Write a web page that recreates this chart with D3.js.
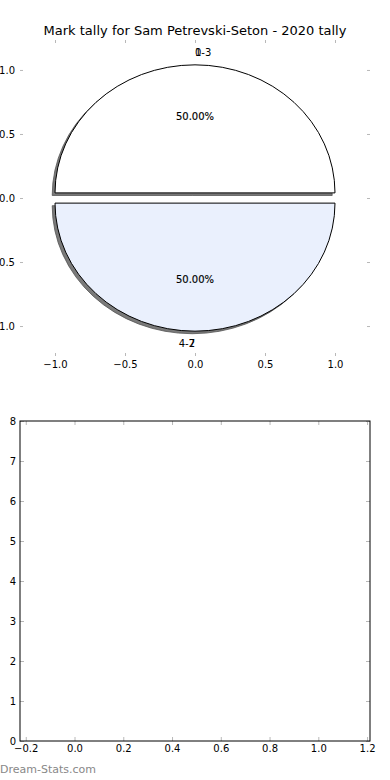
<!DOCTYPE html>
<html><head><meta charset="utf-8">
<script src="https://cdn.jsdelivr.net/npm/d3@7"></script>
<style>
html,body{margin:0;padding:0;background:#fff;}
text{font-family:"DejaVu Sans",sans-serif;}
</style></head>
<body>
<script>
const title = "Mark tally for Sam Petrevski-Seton - 2020 tally";
const categories = ["0-3", "4-7"];
const altLabels = ["1", "2"];
const values = [1, 1];
const pctLabels = ["50.00%", "50.00%"];
const sliceColors = ["#ffffff", "#eaf0fd"];
const pieXTicks = [-1.0, -0.5, 0.0, 0.5, 1.0];
const pieYTicks = [-1.0, -0.5, 0.0, 0.5, 1.0];
const barXTicks = [-0.2, 0.0, 0.2, 0.4, 0.6, 0.8, 1.0, 1.2];
const barYTicks = [0, 1, 2, 3, 4, 5, 6, 7, 8];
const explodeBy = 0.04;
const shadowOffset = 0.02;

const W = 390, H = 780;
const svg = d3.select("body").append("svg").attr("width", W).attr("height", H);
const tickColor = "#b8b8b8";

// ---------- top: pie ----------
const px = d3.scaleLinear().domain([-1.25, 1.25]).range([20, 370]);
const py = d3.scaleLinear().domain([-1.234, 1.234]).range([356, 40]);
const sx = px(1) - px(0), sy = py(0) - py(1);

svg.append("text").attr("x", 195).attr("y", 34.5).attr("text-anchor", "middle")
  .attr("font-size", 13).text(title);

function styleAxis(g, labels) {
  g.select(".domain").remove();
  g.selectAll(".tick line").attr("stroke", tickColor);
  g.selectAll(".tick text").attr("fill", "#000").attr("font-size", 10)
    .attr("font-family", "DejaVu Sans");
  if (!labels) g.selectAll(".tick text").remove();
}
svg.append("g").attr("transform", `translate(0,356)`)
  .call(d3.axisBottom(px).tickValues(pieXTicks).tickFormat(d3.format(".1f")).tickSizeInner(-3).tickSizeOuter(0).tickPadding(5))
  .call(g => styleAxis(g, true));
svg.append("g").attr("transform", `translate(0,40)`)
  .call(d3.axisTop(px).tickValues(pieXTicks).tickSizeInner(-3).tickSizeOuter(0))
  .call(g => styleAxis(g, false));
svg.append("g").attr("transform", `translate(20,0)`)
  .call(d3.axisLeft(py).tickValues(pieYTicks).tickFormat(d3.format(".1f")).tickSizeInner(-3).tickSizeOuter(0).tickPadding(5))
  .call(g => styleAxis(g, true));
svg.append("g").attr("transform", `translate(370,0)`)
  .call(d3.axisRight(py).tickValues(pieYTicks).tickSizeInner(-3).tickSizeOuter(0))
  .call(g => styleAxis(g, false));

const pie = d3.pie().sort(null).value(d => d).startAngle(-Math.PI / 2).endAngle(3 * Math.PI / 2);
const arcs = pie(values);
const arc = d3.arc().innerRadius(0).outerRadius(1);
const total = d3.sum(values);
const cum = d3.cumsum(values);

arcs.forEach((a, i) => {
  const mid = (a.startAngle + a.endAngle) / 2;
  const dx = explodeBy * Math.sin(mid), dy = explodeBy * Math.cos(mid);
  svg.append("path").attr("d", arc(a))
    .attr("transform", `translate(${px(dx - shadowOffset)},${py(dy - shadowOffset)}) scale(${sx},${sy})`)
    .attr("fill", "#4d4d4d").attr("fill-opacity", 0.75)
    .attr("stroke", "#4d4d4d").attr("stroke-opacity", 0.75)
    .attr("stroke-width", 1).attr("vector-effect", "non-scaling-stroke");
});
arcs.forEach((a, i) => {
  const mid = (a.startAngle + a.endAngle) / 2;
  const dx = explodeBy * Math.sin(mid), dy = explodeBy * Math.cos(mid);
  svg.append("path").attr("d", arc(a))
    .attr("transform", `translate(${px(dx)},${py(dy)}) scale(${sx},${sy})`)
    .attr("fill", sliceColors[i]).attr("stroke", "#000")
    .attr("stroke-width", 1).attr("vector-effect", "non-scaling-stroke");
});
arcs.forEach((a, i) => {
  // label angle measured counter-clockwise from 3 o'clock, from cumulative fractions
  const f0 = (cum[i] - values[i]) / total, f1 = cum[i] / total;
  const theta = 2 * Math.PI * (f0 + f1) / 2;
  const ux = Math.cos(theta), uy = Math.sin(theta);
  const lr = 1.1 + explodeBy, pr = 0.6 + explodeBy;
  const anchor = ux > 0 ? "start" : "end";
  const lx = px(lr * ux), ly = py(lr * uy);
  [categories[i], altLabels[i]].forEach(t => {
    svg.append("text").attr("x", lx).attr("y", ly).attr("dy", "0.35em")
      .attr("text-anchor", anchor).attr("font-size", 10).text(t);
  });
  svg.append("text").attr("x", px(pr * ux)).attr("y", py(pr * uy)).attr("dy", "0.35em")
    .attr("text-anchor", "middle").attr("font-size", 10).attr("stroke", "#000")
    .attr("stroke-width", 0.15).text(pctLabels[i]);
});

// ---------- bottom: empty axes ----------
const bx = d3.scaleLinear().domain([-0.2236, 1.212]).range([20, 370]);
const by = d3.scaleLinear().domain([0, 8]).range([741, 421]);

svg.append("g").attr("transform", `translate(0,741)`)
  .call(d3.axisBottom(bx).tickValues(barXTicks).tickFormat(d3.format(".1f")).tickSizeInner(-4).tickSizeOuter(0).tickPadding(4))
  .call(g => styleAxis(g, true));
svg.append("g").attr("transform", `translate(0,421)`)
  .call(d3.axisTop(bx).tickValues(barXTicks).tickSizeInner(-4).tickSizeOuter(0))
  .call(g => styleAxis(g, false));
svg.append("g").attr("transform", `translate(20,0)`)
  .call(d3.axisLeft(by).tickValues(barYTicks).tickFormat(d3.format("d")).tickSizeInner(-4).tickSizeOuter(0).tickPadding(4))
  .call(g => styleAxis(g, true));
svg.append("g").attr("transform", `translate(370,0)`)
  .call(d3.axisRight(by).tickValues(barYTicks).tickSizeInner(-4).tickSizeOuter(0))
  .call(g => styleAxis(g, false));

svg.append("rect").attr("x", bx.range()[0]).attr("y", by.range()[1])
  .attr("width", bx.range()[1] - bx.range()[0]).attr("height", by.range()[0] - by.range()[1])
  .attr("fill", "none").attr("stroke", "#000").attr("stroke-width", 1);

svg.append("text").attr("x", 0).attr("y", 773).attr("font-size", 11)
  .attr("fill", "#888").text("Dream-Stats.com");
</script>
</body></html>
